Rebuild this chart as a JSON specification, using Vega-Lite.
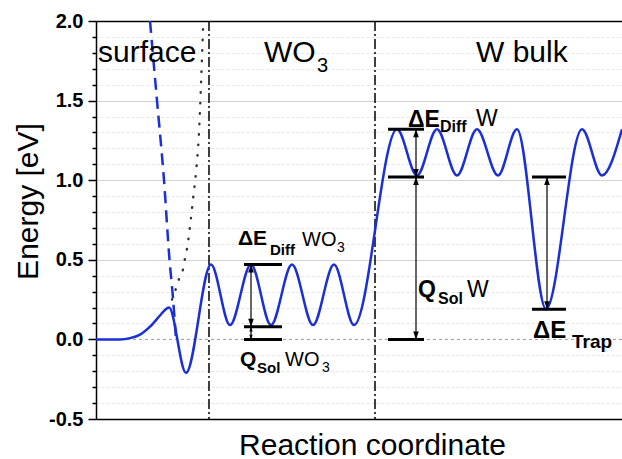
{
  "$schema": "https://vega.github.io/schema/vega-lite/v6.json",
  "width": 526,
  "height": 398,
  "autosize": {"type": "none"},
  "padding": {"left": 96, "top": 21, "right": 0, "bottom": 40},
  "background": "white",
  "config": {"view": {"stroke": null}, "font": "Liberation Sans"},
  "datasets": {
    "curve": [
      {"x": 0, "y": 0}, {"x": 24, "y": 0}, {"x": 34, "y": 0.008}, {"x": 44, "y": 0.03},
      {"x": 54, "y": 0.08}, {"x": 64, "y": 0.15}, {"x": 69, "y": 0.185}, {"x": 73, "y": 0.2},
      {"x": 90, "y": -0.21}, {"x": 115, "y": 0.47}, {"x": 134, "y": 0.09}, {"x": 155, "y": 0.47},
      {"x": 175, "y": 0.09}, {"x": 196, "y": 0.47}, {"x": 217, "y": 0.09}, {"x": 238, "y": 0.47},
      {"x": 258, "y": 0.09}, {"x": 301, "y": 1.32}, {"x": 321, "y": 1.03}, {"x": 341, "y": 1.32},
      {"x": 361, "y": 1.03}, {"x": 381, "y": 1.32}, {"x": 402, "y": 1.03}, {"x": 421, "y": 1.32},
      {"x": 450, "y": 0.19}, {"x": 486, "y": 1.32}, {"x": 506, "y": 1.03}, {"x": 526, "y": 1.32}
    ],
    "dash": [
      {"x": 54, "y": 2.0}, {"x": 61, "y": 1.5}, {"x": 68, "y": 1.0}, {"x": 73.5, "y": 0.5},
      {"x": 77, "y": 0.26}, {"x": 80, "y": 0.0}
    ],
    "dots": [
      {"x": 76, "y": 0.25}, {"x": 80, "y": 0.32}, {"x": 83, "y": 0.38}, {"x": 87, "y": 0.44},
      {"x": 89, "y": 0.51}, {"x": 91, "y": 0.57}, {"x": 94, "y": 0.71}, {"x": 97, "y": 0.88},
      {"x": 100, "y": 1.05}, {"x": 103, "y": 1.3}, {"x": 105, "y": 1.6}, {"x": 107, "y": 1.95}
    ],
    "zero": [{"y": 0}],
    "vlines": [{"x": 113}, {"x": 279}],
    "bars": [
      {"x": 148, "x2": 186, "y": 0.47}, {"x": 148, "x2": 186, "y": 0.08}, {"x": 148, "x2": 186, "y": 0},
      {"x": 292, "x2": 328, "y": 1.32}, {"x": 292, "x2": 328, "y": 1.02}, {"x": 292, "x2": 328, "y": 0},
      {"x": 436, "x2": 470, "y": 1.02}, {"x": 436, "x2": 470, "y": 0.19}
    ],
    "arrows": [
      {"x": 155, "y": 0.47, "y2": 0.08}, {"x": 155, "y": 0.08, "y2": 0},
      {"x": 320, "y": 1.32, "y2": 1.02}, {"x": 320, "y": 1.02, "y2": 0},
      {"x": 451, "y": 1.02, "y2": 0.19}
    ],
    "headsUp": [{"x": 155, "y": 0.47}, {"x": 320, "y": 1.32}, {"x": 320, "y": 1.02}, {"x": 451, "y": 1.02}],
    "headsDown": [{"x": 155, "y": 0.08}, {"x": 320, "y": 1.02}, {"x": 320, "y": 0}, {"x": 451, "y": 0.19}],
    "smallUp": [{"x": 155, "y": 0.08}],
    "smallDown": [{"x": 155, "y": 0}],
    "t_head": [
      {"x": 2, "y": 1.742, "t": "surface"}, {"x": 168, "y": 1.742, "t": "WO"}, {"x": 380, "y": 1.742, "t": "W bulk"}
    ],
    "t_reg20": [
      {"x": 221, "y": 1.68, "t": "3"}, {"x": 206, "y": 0.587, "t": "WO"}, {"x": 189, "y": -0.167, "t": "WO"}
    ],
    "t_reg14": [{"x": 241, "y": 0.549, "t": "3"}, {"x": 226, "y": -0.204, "t": "3"}],
    "t_reg23": [{"x": 380, "y": 1.34, "t": "W"}, {"x": 371, "y": 0.266, "t": "W"}],
    "t_b21": [{"x": 142, "y": 0.593, "t": "ΔE"}, {"x": 144, "y": -0.167, "t": "Q"}],
    "t_b15": [{"x": 174, "y": 0.53, "t": "Diff"}, {"x": 161, "y": -0.21, "t": "Sol"}],
    "t_b23": [{"x": 312, "y": 1.334, "t": "ΔE"}, {"x": 322, "y": 0.266, "t": "Q"}],
    "t_b16": [{"x": 344, "y": 1.303, "t": "Diff"}, {"x": 342, "y": 0.222, "t": "Sol"}],
    "t_b24": [{"x": 437, "y": 0.009, "t": "ΔE"}],
    "t_b19": [{"x": 476, "y": -0.054, "t": "Trap"}]
  },
  "layer": [
    {
      "data": {"name": "zero"},
      "mark": {"type": "rule", "color": "#9a9a9a", "strokeDash": [3, 3], "strokeWidth": 1},
      "encoding": {
        "y": {"field": "y", "type": "quantitative",
          "scale": {"domain": [-0.5, 2.0], "nice": false, "zero": false},
          "axis": {"orient": "left", "values": [-0.4, -0.3, -0.2, -0.1, 0.1, 0.2, 0.3, 0.4, 0.6, 0.7, 0.8, 0.9, 1.1, 1.2, 1.3, 1.4, 1.6, 1.7, 1.8, 1.9],
            "grid": true, "gridColor": "#e6e6e6", "gridDash": [3, 2], "gridWidth": 1,
            "labels": false, "ticks": true, "tickSize": 4, "tickColor": "black", "tickWidth": 1.5,
            "domain": false, "title": null}
        }
      }
    },
    {
      "data": {"name": "vlines"},
      "mark": {"type": "rule", "color": "black", "strokeWidth": 1.5, "strokeDash": [10, 3, 2, 3]},
      "encoding": {
        "x": {"field": "x", "type": "quantitative",
          "scale": {"domain": [0, 526], "nice": false, "zero": false},
          "axis": {"orient": "bottom", "labels": false, "ticks": false, "grid": false,
            "domainColor": "black", "domainWidth": 1.5,
            "title": "Reaction coordinate", "titleFont": "Liberation Sans", "titleFontSize": 30,
            "titleFontWeight": "normal", "titleColor": "black", "titleX": 276, "titleY": 35,
            "titleAlign": "center", "titleBaseline": "alphabetic"}
        }
      }
    },
    {
      "data": {"name": "dots"},
      "mark": {"type": "line", "color": "#333333", "strokeWidth": 2.4, "strokeDash": [0.5, 10], "strokeCap": "round", "interpolate": "monotone"},
      "encoding": {
        "x": {"field": "x", "type": "quantitative", "scale": {"domain": [0, 526], "nice": false, "zero": false}, "axis": null},
        "y": {"field": "y", "type": "quantitative", "scale": {"domain": [-0.5, 2.0], "nice": false, "zero": false}, "axis": null}
      }
    },
    {
      "data": {"name": "dash"},
      "mark": {"type": "line", "color": "#1a2fd4", "strokeWidth": 2.5, "strokeDash": [12, 7], "interpolate": "monotone"},
      "encoding": {
        "x": {"field": "x", "type": "quantitative", "scale": {"domain": [0, 526], "nice": false, "zero": false}, "axis": null},
        "y": {"field": "y", "type": "quantitative", "scale": {"domain": [-0.5, 2.0], "nice": false, "zero": false}, "axis": null}
      }
    },
    {
      "data": {"name": "curve"},
      "mark": {"type": "line", "color": "#1a2fd4", "strokeWidth": 2.5, "interpolate": "monotone"},
      "encoding": {
        "x": {"field": "x", "type": "quantitative", "scale": {"domain": [0, 526], "nice": false, "zero": false}, "axis": null},
        "y": {"field": "y", "type": "quantitative",
          "scale": {"domain": [-0.5, 2.0], "nice": false, "zero": false},
          "axis": {"orient": "left", "values": [-0.5, 0, 0.5, 1.0, 1.5, 2.0],
            "labelExpr": "datum.value < 0 ? '-' + format(-datum.value, '.1f') : format(datum.value, '.1f')",
            "grid": true, "gridColor": "#d2d2d2", "gridWidth": 1,
            "gridOpacity": {"condition": {"test": "datum.value === 0", "value": 0}, "value": 1},
            "labelFont": "Liberation Sans", "labelFontWeight": "bold", "labelFontSize": 20, "labelColor": "black",
            "labelPadding": 5, "tickSize": 8, "tickColor": "black", "tickWidth": 1.5,
            "domainColor": "black", "domainWidth": 1.5,
            "title": "Energy [eV]", "titleFont": "Liberation Sans", "titleFontSize": 30, "titleFontWeight": "normal",
            "titleColor": "black", "titleAngle": -90, "titleX": -59, "titleY": 180,
            "titleAlign": "center", "titleBaseline": "alphabetic"}
        }
      }
    },
    {
      "data": {"name": "bars"},
      "mark": {"type": "rule", "color": "black", "strokeWidth": 3},
      "encoding": {
        "x": {"field": "x", "type": "quantitative", "scale": {"domain": [0, 526], "nice": false, "zero": false},
          "axis": {"orient": "top", "labels": false, "ticks": false, "grid": false, "domain": true,
            "domainColor": "black", "domainWidth": 1.5, "title": null}},
        "x2": {"field": "x2"},
        "y": {"field": "y", "type": "quantitative", "scale": {"domain": [-0.5, 2.0], "nice": false, "zero": false}, "axis": null}
      }
    },
    {
      "data": {"name": "arrows"},
      "mark": {"type": "rule", "color": "black", "strokeWidth": 1.2},
      "encoding": {
        "x": {"field": "x", "type": "quantitative", "scale": {"domain": [0, 526], "nice": false, "zero": false}, "axis": null},
        "y": {"field": "y", "type": "quantitative", "scale": {"domain": [-0.5, 2.0], "nice": false, "zero": false}, "axis": null},
        "y2": {"field": "y2"}
      }
    },
    {
      "data": {"name": "headsUp"},
      "mark": {"type": "point", "shape": "M0,0L-0.35,1L0.35,1Z", "size": 256, "filled": true, "color": "black", "opacity": 1, "strokeWidth": 0},
      "encoding": {
        "x": {"field": "x", "type": "quantitative", "scale": {"domain": [0, 526], "nice": false, "zero": false}, "axis": null},
        "y": {"field": "y", "type": "quantitative", "scale": {"domain": [-0.5, 2.0], "nice": false, "zero": false}, "axis": null}
      }
    },
    {
      "data": {"name": "headsDown"},
      "mark": {"type": "point", "shape": "M0,0L-0.35,-1L0.35,-1Z", "size": 256, "filled": true, "color": "black", "opacity": 1, "strokeWidth": 0},
      "encoding": {
        "x": {"field": "x", "type": "quantitative", "scale": {"domain": [0, 526], "nice": false, "zero": false}, "axis": null},
        "y": {"field": "y", "type": "quantitative", "scale": {"domain": [-0.5, 2.0], "nice": false, "zero": false}, "axis": null}
      }
    },
    {
      "data": {"name": "smallUp"},
      "mark": {"type": "point", "shape": "M0,0L-0.35,1L0.35,1Z", "size": 90, "filled": true, "color": "black", "opacity": 1, "strokeWidth": 0},
      "encoding": {
        "x": {"field": "x", "type": "quantitative", "scale": {"domain": [0, 526], "nice": false, "zero": false}, "axis": null},
        "y": {"field": "y", "type": "quantitative", "scale": {"domain": [-0.5, 2.0], "nice": false, "zero": false}, "axis": null}
      }
    },
    {
      "data": {"name": "smallDown"},
      "mark": {"type": "point", "shape": "M0,0L-0.35,-1L0.35,-1Z", "size": 90, "filled": true, "color": "black", "opacity": 1, "strokeWidth": 0},
      "encoding": {
        "x": {"field": "x", "type": "quantitative", "scale": {"domain": [0, 526], "nice": false, "zero": false}, "axis": null},
        "y": {"field": "y", "type": "quantitative", "scale": {"domain": [-0.5, 2.0], "nice": false, "zero": false}, "axis": null}
      }
    },
    {
      "data": {"name": "t_head"},
      "mark": {"type": "text", "align": "left", "baseline": "alphabetic", "font": "Liberation Sans", "fontSize": 30, "color": "black"},
      "encoding": {
        "x": {"field": "x", "type": "quantitative", "scale": {"domain": [0, 526], "nice": false, "zero": false}, "axis": null},
        "y": {"field": "y", "type": "quantitative", "scale": {"domain": [-0.5, 2.0], "nice": false, "zero": false}, "axis": null},
        "text": {"field": "t"}
      }
    },
    {
      "data": {"name": "t_reg20"},
      "mark": {"type": "text", "align": "left", "baseline": "alphabetic", "font": "Liberation Sans", "fontSize": 20, "color": "black"},
      "encoding": {
        "x": {"field": "x", "type": "quantitative", "scale": {"domain": [0, 526], "nice": false, "zero": false}, "axis": null},
        "y": {"field": "y", "type": "quantitative", "scale": {"domain": [-0.5, 2.0], "nice": false, "zero": false}, "axis": null},
        "text": {"field": "t"}
      }
    },
    {
      "data": {"name": "t_reg14"},
      "mark": {"type": "text", "align": "left", "baseline": "alphabetic", "font": "Liberation Sans", "fontSize": 14, "color": "black"},
      "encoding": {
        "x": {"field": "x", "type": "quantitative", "scale": {"domain": [0, 526], "nice": false, "zero": false}, "axis": null},
        "y": {"field": "y", "type": "quantitative", "scale": {"domain": [-0.5, 2.0], "nice": false, "zero": false}, "axis": null},
        "text": {"field": "t"}
      }
    },
    {
      "data": {"name": "t_reg23"},
      "mark": {"type": "text", "align": "left", "baseline": "alphabetic", "font": "Liberation Sans", "fontSize": 23, "color": "black"},
      "encoding": {
        "x": {"field": "x", "type": "quantitative", "scale": {"domain": [0, 526], "nice": false, "zero": false}, "axis": null},
        "y": {"field": "y", "type": "quantitative", "scale": {"domain": [-0.5, 2.0], "nice": false, "zero": false}, "axis": null},
        "text": {"field": "t"}
      }
    },
    {
      "data": {"name": "t_b21"},
      "mark": {"type": "text", "align": "left", "baseline": "alphabetic", "font": "Liberation Sans", "fontSize": 21, "fontWeight": "bold", "color": "black"},
      "encoding": {
        "x": {"field": "x", "type": "quantitative", "scale": {"domain": [0, 526], "nice": false, "zero": false}, "axis": null},
        "y": {"field": "y", "type": "quantitative", "scale": {"domain": [-0.5, 2.0], "nice": false, "zero": false}, "axis": null},
        "text": {"field": "t"}
      }
    },
    {
      "data": {"name": "t_b15"},
      "mark": {"type": "text", "align": "left", "baseline": "alphabetic", "font": "Liberation Sans", "fontSize": 15, "fontWeight": "bold", "color": "black"},
      "encoding": {
        "x": {"field": "x", "type": "quantitative", "scale": {"domain": [0, 526], "nice": false, "zero": false}, "axis": null},
        "y": {"field": "y", "type": "quantitative", "scale": {"domain": [-0.5, 2.0], "nice": false, "zero": false}, "axis": null},
        "text": {"field": "t"}
      }
    },
    {
      "data": {"name": "t_b23"},
      "mark": {"type": "text", "align": "left", "baseline": "alphabetic", "font": "Liberation Sans", "fontSize": 23, "fontWeight": "bold", "color": "black"},
      "encoding": {
        "x": {"field": "x", "type": "quantitative", "scale": {"domain": [0, 526], "nice": false, "zero": false}, "axis": null},
        "y": {"field": "y", "type": "quantitative", "scale": {"domain": [-0.5, 2.0], "nice": false, "zero": false}, "axis": null},
        "text": {"field": "t"}
      }
    },
    {
      "data": {"name": "t_b16"},
      "mark": {"type": "text", "align": "left", "baseline": "alphabetic", "font": "Liberation Sans", "fontSize": 16, "fontWeight": "bold", "color": "black"},
      "encoding": {
        "x": {"field": "x", "type": "quantitative", "scale": {"domain": [0, 526], "nice": false, "zero": false}, "axis": null},
        "y": {"field": "y", "type": "quantitative", "scale": {"domain": [-0.5, 2.0], "nice": false, "zero": false}, "axis": null},
        "text": {"field": "t"}
      }
    },
    {
      "data": {"name": "t_b24"},
      "mark": {"type": "text", "align": "left", "baseline": "alphabetic", "font": "Liberation Sans", "fontSize": 24, "fontWeight": "bold", "color": "black"},
      "encoding": {
        "x": {"field": "x", "type": "quantitative", "scale": {"domain": [0, 526], "nice": false, "zero": false}, "axis": null},
        "y": {"field": "y", "type": "quantitative", "scale": {"domain": [-0.5, 2.0], "nice": false, "zero": false}, "axis": null},
        "text": {"field": "t"}
      }
    },
    {
      "data": {"name": "t_b19"},
      "mark": {"type": "text", "align": "left", "baseline": "alphabetic", "font": "Liberation Sans", "fontSize": 19, "fontWeight": "bold", "color": "black"},
      "encoding": {
        "x": {"field": "x", "type": "quantitative", "scale": {"domain": [0, 526], "nice": false, "zero": false}, "axis": null},
        "y": {"field": "y", "type": "quantitative", "scale": {"domain": [-0.5, 2.0], "nice": false, "zero": false}, "axis": null},
        "text": {"field": "t"}
      }
    }
  ],
  "resolve": {"axis": {"x": "independent", "y": "independent"}}
}
